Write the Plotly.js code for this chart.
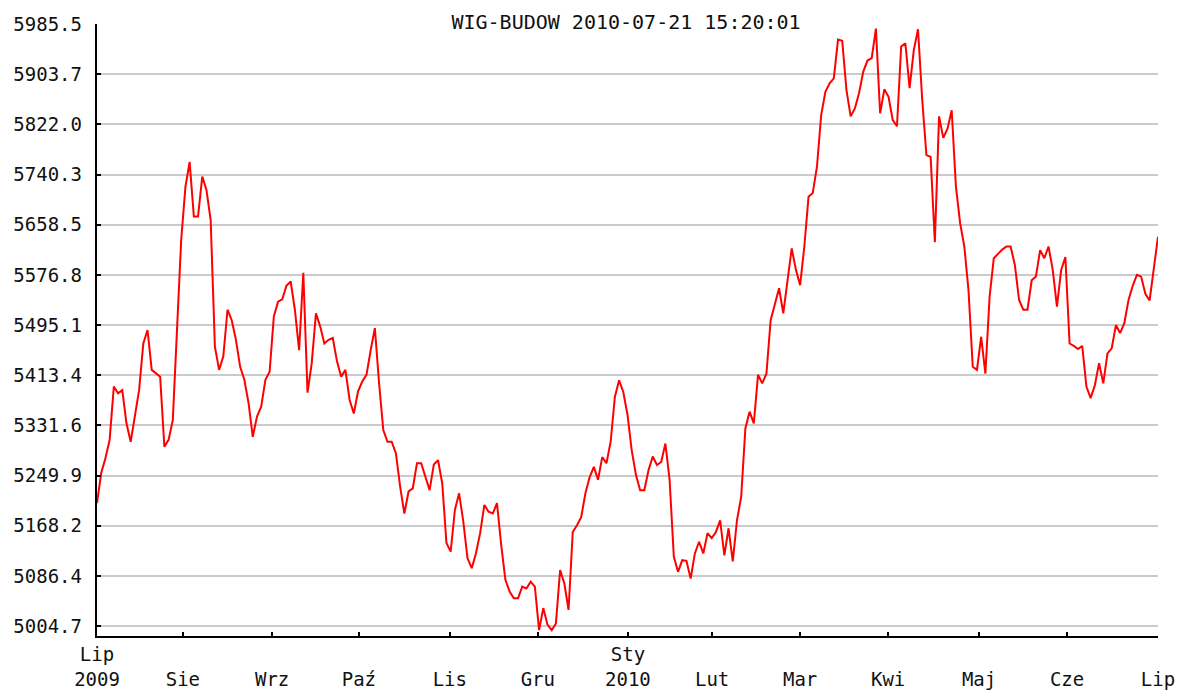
<!DOCTYPE html>
<html>
<head>
<meta charset="utf-8">
<script src="https://cdn.plot.ly/plotly-3.0.1.min.js"></script>
<style>html,body{margin:0;padding:0;background:#fff;}#chart{width:1179px;height:693px;}</style>
</head>
<body>
<div id="chart"></div>
<script>
// Daily closing values of WIG-BUDOW, Jul 2009 - Jul 2010
const values = [
5205,5254,5278,5308,5395,5384,5389,5335,5305,5346,
5389,5465,5487,5422,5416,5411,5297,5308,5340,5492,
5634,5720,5761,5672,5672,5737,5715,5666,5460,5422,
5444,5520,5503,5471,5427,5406,5368,5313,5346,5362,
5406,5419,5509,5533,5537,5559,5566,5520,5454,5580,
5385,5433,5514,5493,5465,5471,5474,5436,5411,5422,
5373,5351,5387,5403,5414,5454,5490,5400,5324,5305,
5305,5286,5232,5188,5224,5229,5270,5270,5248,5226,
5268,5275,5237,5140,5126,5194,5221,5175,5115,5099,
5123,5156,5202,5191,5188,5205,5137,5080,5061,5050,
5050,5069,5066,5077,5069,4998,5034,5007,4998,5009,
5096,5074,5031,5158,5169,5182,5221,5247,5264,5243,
5280,5270,5305,5378,5405,5386,5349,5291,5251,5226,
5226,5259,5281,5267,5272,5302,5243,5118,5093,5112,
5111,5082,5123,5142,5123,5156,5148,5158,5177,5120,
5164,5110,5177,5215,5327,5354,5335,5414,5400,5416,
5503,5528,5555,5514,5563,5620,5585,5560,5623,5704,
5710,5753,5837,5875,5889,5897,5960,5958,5878,5835,
5848,5873,5908,5926,5930,5978,5840,5879,5867,5829,
5819,5949,5954,5881,5943,5977,5862,5772,5769,5630,
5835,5800,5815,5845,5721,5661,5623,5551,5427,5422,
5476,5416,5541,5604,5611,5618,5623,5623,5593,5536,
5520,5520,5568,5574,5617,5604,5623,5585,5525,5585,
5606,5465,5461,5456,5461,5395,5376,5397,5433,5400,
5449,5457,5495,5482,5498,5536,5559,5577,5574,5546,
5535,5590,5639
];
const sessions = values.map((v, i) => i);

// Month ticks (session positions) and labels
const monthTickVals = [0, 20.4, 41.6, 62.2, 83.8, 104.7, 126.1, 146.1, 167.0, 187.9, 209.5, 230.4, 252];
const monthTickText = ["Lip<br>2009", " <br>Sie", " <br>Wrz", " <br>Paź", " <br>Lis", " <br>Gru",
                       "Sty<br>2010", " <br>Lut", " <br>Mar", " <br>Kwi", " <br>Maj", " <br>Cze", " <br>Lip"];

// Value axis ticks
const yTickVals = [5004.7, 5086.4, 5168.2, 5249.9, 5331.6, 5413.4, 5495.1, 5576.8, 5658.5, 5740.3, 5822.0, 5903.7, 5985.5];
const yTickText = ["5004.7", "5086.4", "5168.2", "5249.9", "5331.6", "5413.4", "5495.1", "5576.8", "5658.5", "5740.3", "5822.0", "5903.7", "5985.5"];
const yGridVals = yTickVals.slice(0, yTickVals.length - 1);

const titleText = "WIG-BUDOW 2010-07-21 15:20:01";

const yRange = [4988.5, 5985.5];
const FONT = "DejaVu Sans Mono, monospace";

const trace = {
  x: sessions,
  y: values,
  type: "scatter",
  mode: "lines",
  line: {color: "#ff0000", width: 2},
  hoverinfo: "y",
  yaxis: "y"
};

const layout = {
  width: 1179,
  height: 693,
  margin: {l: 97, r: 21, t: 24, b: 57, pad: 0},
  paper_bgcolor: "#ffffff",
  plot_bgcolor: "#ffffff",
  showlegend: false,
  title: {
    text: titleText,
    font: {family: FONT, size: 20, color: "#111"},
    x: 0.531, xanchor: "center",
    y: 1 - 22 / 693, yanchor: "middle", yref: "container"
  },
  xaxis: {
    range: [0, 252],
    tickmode: "array",
    tickvals: monthTickVals,
    ticktext: monthTickText,
    ticks: "inside",
    ticklen: 4,
    tickwidth: 2,
    tickcolor: "#000",
    showgrid: false,
    zeroline: false,
    showline: true,
    linecolor: "#000",
    linewidth: 2,
    tickangle: 0,
    tickfont: {family: FONT, size: 19, color: "#111"},
    fixedrange: true
  },
  yaxis: {
    range: yRange,
    tickmode: "array",
    tickvals: yGridVals,
    showticklabels: false,
    ticks: "",
    showgrid: true,
    gridcolor: "#cbcbcb",
    gridwidth: 2,
    zeroline: false,
    showline: true,
    linecolor: "#000",
    linewidth: 2,
    fixedrange: true
  },
  yaxis2: {
    range: yRange,
    overlaying: "y",
    side: "left",
    tickmode: "array",
    tickvals: yTickVals,
    ticktext: yTickText,
    ticks: "inside",
    ticklen: 4,
    tickwidth: 2,
    tickcolor: "#000",
    showgrid: false,
    zeroline: false,
    showline: false,
    ticklabelstandoff: 14,
    tickfont: {family: FONT, size: 19, color: "#111"},
    fixedrange: true
  }
};

// invisible trace to activate the labelled value axis
const axisTrace = {x: [0], y: [yRange[0]], yaxis: "y2", type: "scatter", mode: "markers",
                   marker: {opacity: 0}, hoverinfo: "skip"};

Plotly.newPlot("chart", [trace, axisTrace], layout, {displayModeBar: false, staticPlot: true});
</script>
</body>
</html>
